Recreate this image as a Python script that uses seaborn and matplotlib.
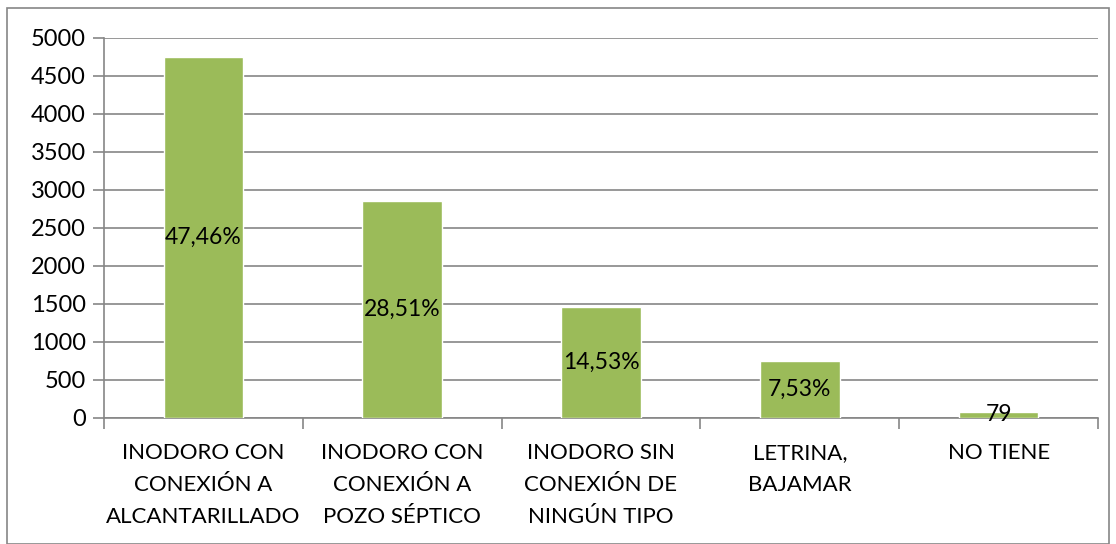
import numpy as np
import pandas as pd
import matplotlib.pyplot as plt
import seaborn as sns
from matplotlib.patches import Rectangle

categorias = ['INODORO CON\nCONEXIÓN A\nALCANTARILLADO',
              'INODORO CON\nCONEXIÓN A\nPOZO SÉPTICO',
              'INODORO SIN\nCONEXIÓN DE\nNINGÚN TIPO',
              'LETRINA,\nBAJAMAR',
              'NO TIENE']
viviendas = [4748, 2853, 1454, 753, 79]
etiquetas = ['47,46%', '28,51%', '14,53%', '7,53%', '79']

sns.set_theme(style='white')
plt.rcParams['font.family'] = ['Lato', 'DejaVu Sans']

df = pd.DataFrame({'cat': categorias, 'n': viviendas})

fig = plt.figure(figsize=(11.16, 5.44), dpi=100)
ax = fig.add_axes([104 / 1116, 1 - 418 / 544, (1098 - 104) / 1116, (418 - 38) / 544])

sns.barplot(data=df, x='cat', y='n', color='#9BBB59', width=0.4,
            saturation=1, ax=ax, zorder=3)

ax.bar_label(ax.containers[0], labels=etiquetas, label_type='center',
             fontsize=16.5, color='black')

ax.set_ylim(0, 5000)
ax.set_xlim(-0.5, len(categorias) - 0.5)
ax.set_yticks(np.arange(0, 5001, 500))
ax.yaxis.grid(True, color='#868686', linewidth=1.2, zorder=0)
ax.set_axisbelow(True)

ax.set_xlabel('')
ax.set_ylabel('')
ax.tick_params(axis='y', labelsize=17, length=8, width=1.2, color='#868686',
               direction='out', left=True, pad=5, labelcolor='black')
ax.tick_params(axis='x', which='major', labelsize=16, length=0, pad=18,
               labelcolor='black')
ax.set_xticks(np.arange(-0.5, len(categorias)), minor=True)
ax.tick_params(axis='x', which='minor', length=8, width=1.2, color='#868686',
               direction='out', bottom=True)
for lbl in ax.get_xticklabels():
    lbl.set_linespacing(1.75)

for side in ['top', 'right']:
    ax.spines[side].set_visible(False)
for side in ['left', 'bottom']:
    ax.spines[side].set_color('#868686')
    ax.spines[side].set_linewidth(1.2)

fig.patches.append(Rectangle((7 / 1116, 0), (1109 - 7) / 1116, 1 - 8 / 544,
                             transform=fig.transFigure, fill=False,
                             edgecolor='#868686', linewidth=1.2))

fig.savefig('out.png', dpi=100)
